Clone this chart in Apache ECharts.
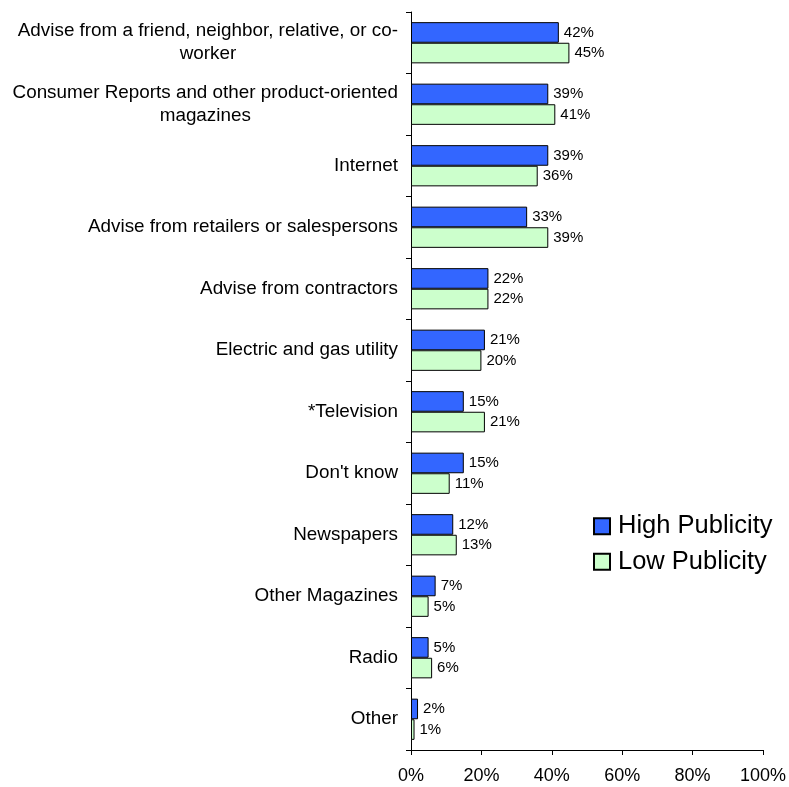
<!DOCTYPE html>
<html>
<head>
<meta charset="utf-8">
<script src="https://cdn.jsdelivr.net/npm/echarts@6/dist/echarts.min.js"></script>
<style>
  html, body { margin: 0; padding: 0; background: #ffffff; }
  #chart { width: 789px; height: 787px; }
</style>
</head>
<body>
<div id="chart"></div>
<script>
// Information sources, share of respondents by publicity group
const categories = [
  'Advise from a friend, neighbor, relative, or co-\nworker',
  'Consumer Reports and other product-oriented\nmagazines',
  'Internet',
  'Advise from retailers or salespersons',
  'Advise from contractors',
  'Electric and gas utility',
  '*Television',
  "Don't know",
  'Newspapers',
  'Other Magazines',
  'Radio',
  'Other'
];
const highPublicity = [42, 39, 39, 33, 22, 21, 15, 15, 12, 7, 5, 2];
const lowPublicity  = [45, 41, 36, 39, 22, 20, 21, 11, 13, 5, 6, 1];
const xTicks = [0, 20, 40, 60, 80, 100];

const FONT = 'Liberation Sans, Arial, sans-serif';
const chart = echarts.init(document.getElementById('chart'), null, { renderer: 'canvas' });

const valueLabel = {
  show: true,
  position: 'right',
  distance: 5,
  color: '#000',
  fontFamily: FONT,
  fontSize: 15,
  formatter: p => p.value + '%'
};

chart.setOption({
  animation: false,
  backgroundColor: '#ffffff',
  textStyle: { fontFamily: FONT },
  grid: { left: 411, right: 25, top: 12, bottom: 37 },
  legend: {
    orient: 'vertical',
    left: 588,
    top: 507,
    padding: 5,
    itemWidth: 16,
    itemHeight: 16,
    itemGap: 7,
    icon: 'rect',
    textStyle: { fontFamily: FONT, fontSize: 25.5, lineHeight: 28.5, color: '#000', padding: [0, 0, 0, 3] },
    data: ['High Publicity', 'Low Publicity']
  },
  xAxis: {
    type: 'value',
    min: xTicks[0],
    max: xTicks[xTicks.length - 1],
    interval: 20,
    splitLine: { show: false },
    axisLine: { show: true, lineStyle: { color: '#000', width: 1 } },
    axisTick: { show: true, length: 5, lineStyle: { color: '#000' } },
    axisLabel: {
      color: '#000',
      fontFamily: FONT,
      fontSize: 18,
      margin: 17,
      formatter: v => v + '%'
    }
  },
  yAxis: {
    type: 'category',
    inverse: true,
    data: categories,
    axisLine: { show: true, lineStyle: { color: '#000', width: 1 } },
    axisTick: { show: true, length: 5, alignWithLabel: false, lineStyle: { color: '#000' } },
    axisLabel: {
      color: '#000',
      margin: 13,
      formatter: v => v.split('\n').map(s => '{c|' + s + '}').join('\n'),
      rich: {
        c: { align: 'center', fontFamily: FONT, fontSize: 18.85, lineHeight: 23, color: '#000' }
      }
    }
  },
  series: [
    {
      name: 'High Publicity',
      type: 'bar',
      data: highPublicity,
      barGap: '0%',
      barCategoryGap: '33%',
      itemStyle: { color: '#3366FF', borderColor: '#000', borderWidth: 1 },
      label: valueLabel
    },
    {
      name: 'Low Publicity',
      type: 'bar',
      data: lowPublicity,
      itemStyle: { color: '#CCFFCC', borderColor: '#000', borderWidth: 1 },
      label: valueLabel
    }
  ]
});
</script>
</body>
</html>
